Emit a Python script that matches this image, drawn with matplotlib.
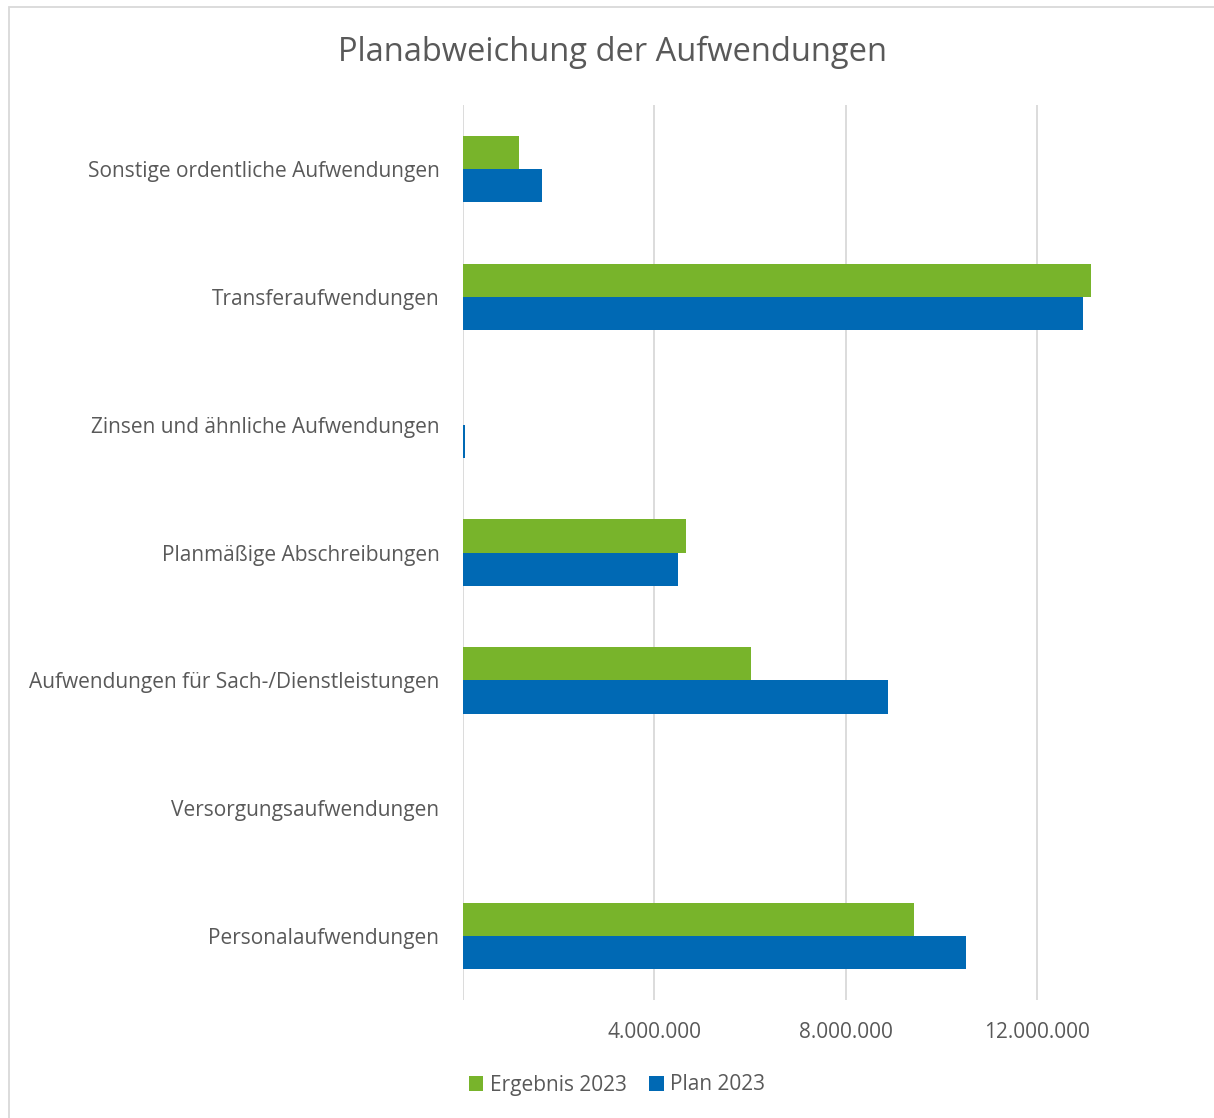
import matplotlib

matplotlib.use("Agg")
import matplotlib.pyplot as plt
import numpy as np
from matplotlib.patches import Rectangle
from matplotlib.ticker import FuncFormatter

plt.rcParams["font.family"] = ["Open Sans", "DejaVu Sans"]

# bottom -> top, as in the chart
categories = [
    "Personalaufwendungen",
    "Versorgungsaufwendungen",
    "Aufwendungen für Sach-/Dienstleistungen",
    "Planmäßige Abschreibungen",
    "Zinsen und ähnliche Aufwendungen",
    "Transferaufwendungen",
    "Sonstige ordentliche Aufwendungen",
]
ergebnis_2023 = [9_420_000, 0, 6_020_000, 4_660_000, 5_000, 13_120_000, 1_170_000]
plan_2023 = [10_510_000, 0, 8_880_000, 4_490_000, 40_000, 12_950_000, 1_650_000]
x_ticks = [0, 4_000_000, 8_000_000, 12_000_000]

GREEN = "#78B42B"
BLUE = "#0069B4"
TEXT = "#595959"

W, H = 1214, 1118
fig = plt.figure(figsize=(W / 100, H / 100), dpi=100)

# chart border (cropped on the right/bottom in the original)
fig.patches.append(Rectangle((8.5 / W, -0.01), 1.02, 1 - 6.5 / H + 0.01, transform=fig.transFigure,
                             fill=False, edgecolor="#D9D9D9", linewidth=1.3))

left, right, top, bottom = 463, 1229, 105, 1000
ax = fig.add_axes([left / W, 1 - bottom / H, (right - left) / W, (bottom - top) / H])

y = np.arange(len(categories))
h = 0.26
ax.barh(y + h / 2, ergebnis_2023, height=h, color=GREEN, label="Ergebnis 2023", zorder=3)
ax.barh(y - h / 2, plan_2023, height=h, color=BLUE, label="Plan 2023", zorder=3)

ax.set_ylim(-0.5, len(categories) - 0.5)
ax.set_xlim(0, 16_000_000)
ax.set_yticks(y, categories)
ax.set_xticks(x_ticks)
ax.xaxis.set_major_formatter(FuncFormatter(lambda v, p: "" if v == 0 else f"{v:,.0f}".replace(",", ".")))
ax.grid(axis="x", color="#D9D9D9", linewidth=1.3, zorder=0)
for s in ax.spines.values():
    s.set_visible(False)
ax.tick_params(axis="both", length=0, colors=TEXT, labelsize=15)
ax.tick_params(axis="y", pad=17)
ax.tick_params(axis="x", pad=16)

fig.text(613 / W, 1 - 52 / H, "Planabweichung der Aufwendungen", ha="center", va="center",
         fontsize=23.5, color=TEXT)

handles, labels = ax.get_legend_handles_labels()
fig.legend(handles, labels, loc="center", bbox_to_anchor=(617 / W, 1 - 1085 / H), ncol=2,
           frameon=False, fontsize=15, labelcolor=TEXT, handlelength=0.7, handleheight=0.7,
           handletextpad=0.3, columnspacing=1.1)

fig.savefig("out.png", dpi=100)
